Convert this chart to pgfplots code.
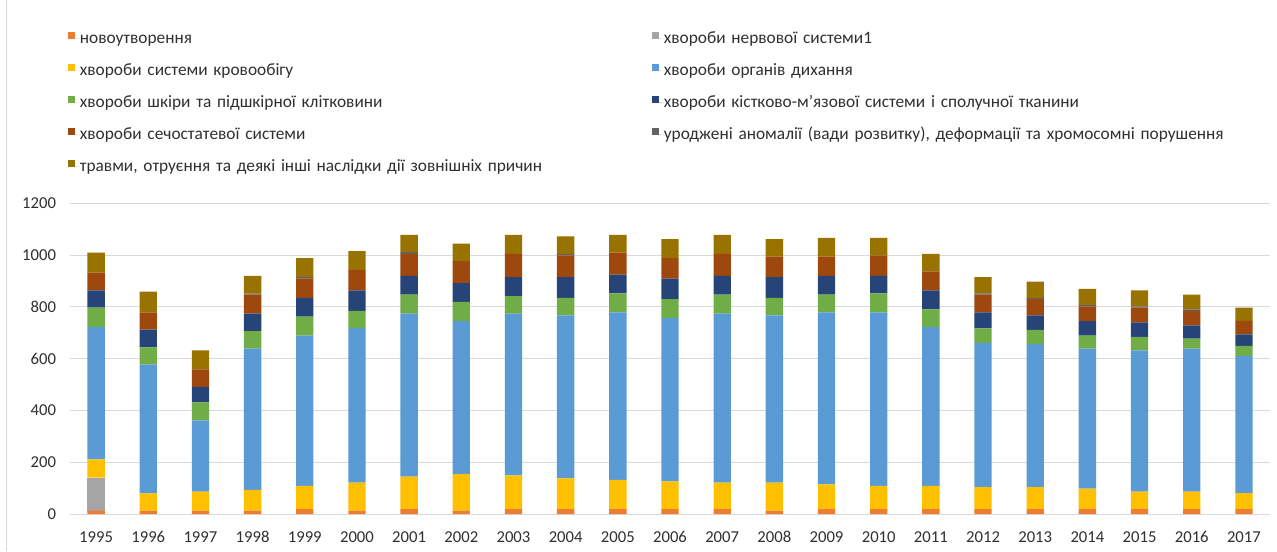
\documentclass[border=0pt]{standalone}
\usepackage{fontspec}
\setmainfont{Carlito}
\usepackage{pgfplots}
\usepackage{pgfplotstable}
\pgfplotsset{compat=1.18}

\definecolor{cNeo}{HTML}{ED7D31}
\definecolor{cNerv}{HTML}{A5A5A5}
\definecolor{cCirc}{HTML}{FFC000}
\definecolor{cResp}{HTML}{5B9BD5}
\definecolor{cSkin}{HTML}{70AD47}
\definecolor{cMusc}{HTML}{264478}
\definecolor{cGen}{HTML}{9E480E}
\definecolor{cCong}{HTML}{636363}
\definecolor{cTrau}{HTML}{997300}
\definecolor{cGrid}{HTML}{D9D9D9}
\definecolor{cText}{HTML}{303030}

% x: 0 = 1995 ... 22 = 2017
\pgfplotstableread{
x  neo nerv circ resp skin musc gen cong trau
0  13  128  70   511  75   67   68  0    78
1  13  0    67   497  67   68   67  0    80
2  13  0    73   276  69   60   68  0    73
3  13  0    80   546  67   68   73  4    69
4  19  0    90   580  73   73   75  5    73
5  13  0    108  597  67   79   79  0    72
6  19  0    125  630  73   73   85  7    66
7  13  0    141  592  73   73   85  0    67
8  19  0    130  625  68   73   90  0    73
9  19  0    119  629  68   80   84  6    67
10 19  0    113  647  73   73   85  0    68
11 19  0    107  631  73   79   79  0    74
12 19  0    102  653  73   73   85  0    73
13 13  0    108  646  68   80   79  0    68
14 19  0    95   665  68   73   74  0    73
15 19  0    90   670  73   68   79  0    68
16 19  0    90   613  68   74   73  0    68
17 19  0    85   557  56   62   68  5    63
18 19  0    85   552  55   56   63  5    63
19 19  0    79   541  50   56   57  5    63
20 19  0    67   546  52   56   57  5    62
21 19  0    67   553  38   52   56  5    57
22 19  0    62   530  38   45   52  0    51
}\datatable

\begin{document}
\begin{tikzpicture}
\useasboundingbox (0pt,0pt) rectangle (957.75pt,-413.25pt);
\fill[white] (0pt,0pt) rectangle (957.75pt,-413.25pt);
\draw[cGrid, line width=0.75pt] (4.5pt,0pt) -- (4.5pt,-413.25pt);
\begin{axis}[
    at={(52.5pt,-385.5pt)}, anchor=south west,
    scale only axis,
    width=900pt, height=233pt,
    ybar stacked,
    bar width=13pt,
    xmin=-0.5, xmax=22.5,
    ymin=0, ymax=1200,
    ytick={0,200,...,1200},
    xtick=data,
    xticklabels={1995,1996,1997,1998,1999,2000,2001,2002,2003,2004,2005,2006,2007,2008,2009,2010,2011,2012,2013,2014,2015,2016,2017},
    axis line style={draw=none},
    major tick length=0pt,
    ymajorgrids,
    grid style={cGrid, line width=0.75pt},
    tick label style={font=\fontsize{12.5pt}{14pt}\selectfont, text=cText},
    /pgf/number format/assume math mode=true,
    /pgf/number format/1000 sep={},
    yticklabel style={xshift=-7pt},
    xticklabel style={anchor=north, text height=9pt, text depth=0pt, yshift=-9pt},
    legend columns=2,
    legend cell align=left,
    legend style={
        at={(-0.002,1.556)}, anchor=north west,
        draw=none, fill=none, inner sep=0pt,
        row sep=12pt, column sep=0pt,
        font=\fontsize{13pt}{15pt}\selectfont,
        text=cText,
        nodes={inner sep=0pt, text height=9.5pt, text depth=2.5pt, text width=429pt, align=left},
    },
    legend image code/.code={
        \fill[#1] (0pt,-0.4pt) rectangle (5.4pt,5pt);
        \path (0pt,0pt) -- (9pt,0pt);
    },
]
\addplot[fill=cNeo, draw=none] table[x=x, y=neo] {\datatable};
\addlegendentry{новоутворення}
\addplot[fill=cNerv, draw=none] table[x=x, y=nerv] {\datatable};
\addlegendentry{хвороби нервової системи1}
\addplot[fill=cCirc, draw=none] table[x=x, y=circ] {\datatable};
\addlegendentry{хвороби системи кровообігу}
\addplot[fill=cResp, draw=none] table[x=x, y=resp] {\datatable};
\addlegendentry{хвороби органів дихання}
\addplot[fill=cSkin, draw=none] table[x=x, y=skin] {\datatable};
\addlegendentry{хвороби шкіри та підшкірної клітковини}
\addplot[fill=cMusc, draw=none] table[x=x, y=musc] {\datatable};
\addlegendentry{хвороби кістково-м’язової системи і сполучної тканини}
\addplot[fill=cGen, draw=none] table[x=x, y=gen] {\datatable};
\addlegendentry{хвороби сечостатевої системи}
\addplot[fill=cCong, draw=none] table[x=x, y=cong] {\datatable};
\addlegendentry{уроджені аномалії (вади розвитку), деформації та хромосомні порушення}
\addplot[fill=cTrau, draw=none] table[x=x, y=trau] {\datatable};
\addlegendentry{травми, отруєння та деякі інші наслідки дії зовнішніх причин}
\end{axis}
\end{tikzpicture}
\end{document}
